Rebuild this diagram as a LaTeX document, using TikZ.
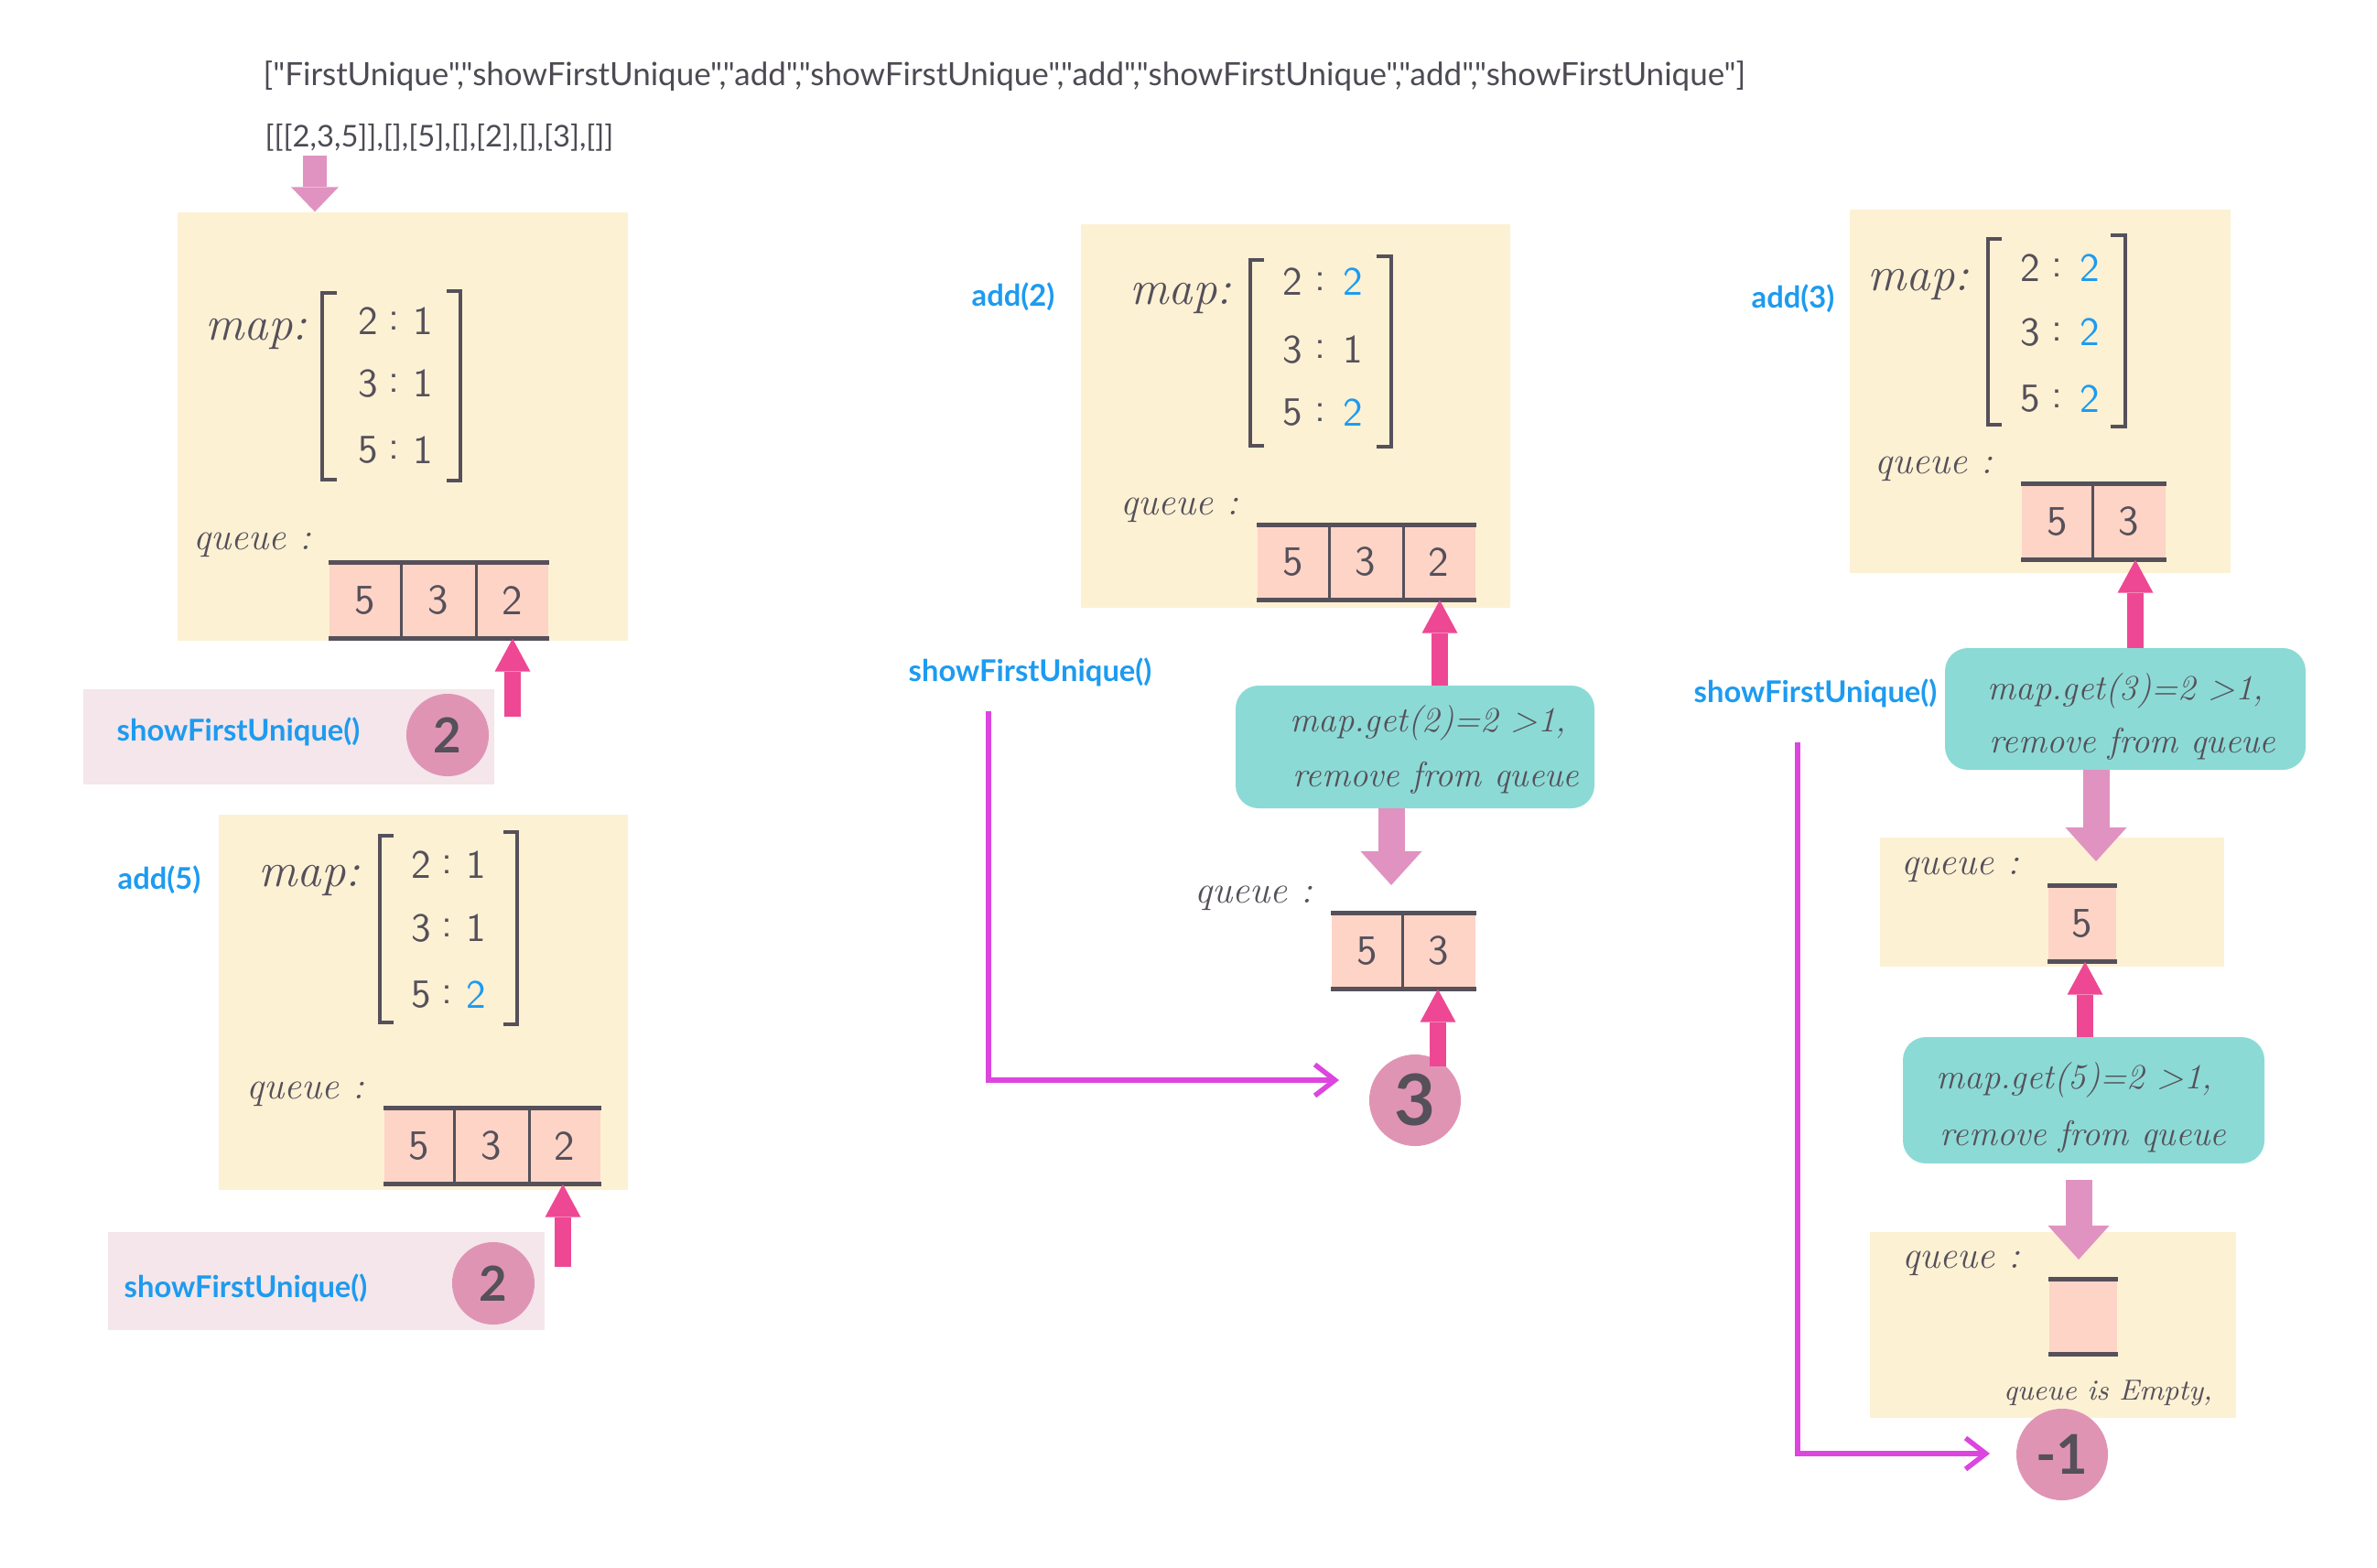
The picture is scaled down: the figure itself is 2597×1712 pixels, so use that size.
\documentclass[tikz,border=0pt]{standalone}
\usepackage{fontspec}
\usetikzlibrary{arrows.meta,fit,calc}
\newfontfamily\lab{Lato}
\definecolor{yel}{HTML}{FDF1D4}
\definecolor{salm}{HTML}{FDD4C6}
\definecolor{ink}{HTML}{55505A}
\definecolor{hot}{HTML}{EE4894}
\definecolor{lpink}{HTML}{E093C0}
\definecolor{circc}{HTML}{E094B4}
\definecolor{shw}{HTML}{F4E6EA}
\definecolor{tealc}{HTML}{8CDAD5}
\definecolor{blu}{HTML}{1D9BF0}
\definecolor{mag}{HTML}{DC46DE}
\definecolor{gtxt}{HTML}{4E4A53}
\tikzset{
  yb/.style={fill=yel, draw=none, inner sep=0},
  sb/.style={fill=shw, draw=none, inner sep=0},
  tb/.style={fill=tealc, draw=none, inner sep=0, rounded corners=0.25cm},
  cellbg/.style={fill=salm, draw=none, inner sep=0},
  cline/.style={draw=ink, line width=0.05cm},
  dline/.style={draw=ink, line width=0.03cm},
  brk/.style={draw=ink, line width=0.035cm},
  toptxt/.style={font=\lab\fontsize{9.3}{11}\selectfont, text=gtxt, inner sep=0, anchor=west},
  blab/.style={font=\lab\bfseries\fontsize{9.3}{11}\selectfont, text=blu, anchor=west, inner sep=0},
  hwmap/.style={font=\itshape\fontsize{15}{17}\selectfont, text=ink, inner sep=0},
  hwq/.style={font=\itshape\fontsize{12}{14}\selectfont, text=ink, inner sep=0},
  hwt/.style={font=\itshape\fontsize{11}{13}\selectfont, text=ink, inner sep=0, anchor=west},
  dg/.style={font=\sffamily\fontsize{12.5}{14}\selectfont, text=ink, inner sep=0},
  dgb/.style={font=\sffamily\fontsize{12.5}{14}\selectfont, text=blu, inner sep=0},
  cdg/.style={font=\sffamily\fontsize{13}{15}\selectfont, text=ink, inner sep=0},
  res/.style={circle, fill=circc, inner sep=0, text=ink, font=\lab\bfseries\fontsize{15}{17}\selectfont},
  uparrow/.style={draw=hot, line width=0.18cm, -{Triangle[width=0.39cm,length=0.36cm,line width=0pt]}},
  dnarrow/.style={draw=lpink, line width=0.29cm, -{Triangle[width=0.67cm,length=0.37cm,line width=0pt]}},
  topdn/.style={draw=lpink, line width=0.25cm, -{Triangle[width=0.52cm,length=0.27cm,line width=0pt]}},
  magline/.style={draw=mag, line width=0.055cm, -{Straight Barb[length=0.22cm,width=0.34cm]}}
}
\begin{document}
\begin{tikzpicture}[x=0.01cm,y=-0.01cm]
\useasboundingbox (0,0) rectangle (2597,1712);

% top texts
\node[toptxt, font=\lab\fontsize{9.95}{11}\selectfont] (ops) at (287,83) {["FirstUnique","showFirstUnique","add","showFirstUnique","add","showFirstUnique","add","showFirstUnique"]};
\node[toptxt] (args) at (289,150) {[[[2,3,5]],[],[5],[],[2],[],[3],[]]};

% ---------- box 1 ----------
\node[yb, fit={(194,232) (686,700)}] (box1) {};
\coordinate (a0) at (344,170);
\draw[topdn] (a0) -- (a0 |- box1.north);
\node[hwmap] (map1) at (280,365) {map:};
\draw[brk] (368,320) -- (352,320) -- (352,524) -- (368,524);
\draw[brk] (488,318) -- (503,318) -- (503,525) -- (488,525);
\node[dg] (m1a) at (402,351) {2}; \node[dg] at (430,351) {:}; \node[dg] at (462,351) {1};
\node[dg] (m1b) at (402,419) {3}; \node[dg] at (430,419) {:}; \node[dg] at (462,419) {1};
\node[dg] (m1c) at (402,492) {5}; \node[dg] at (430,492) {:}; \node[dg] at (462,492) {1};
\node[hwq] (qq1) at (276,595) {queue :};
\node[cellbg, fit={(360,615) (599,697)}] (q1) {};
\draw[cline] (q1.north west) -- (q1.north east);
\draw[cline] (q1.south west) -- (q1.south east);
\draw[dline] (438,615) -- (438,697);
\draw[dline] (520,615) -- (520,697);
\node[cdg] at (399,656) {5}; \node[cdg] at (479,656) {3}; \node[cdg] at (560,656) {2};
\node[sb, fit={(91,753) (540,857)}] (s1) {};
\node[blab] (s1t) at (127,799) {showFirstUnique()};
\node[res, minimum size=0.9cm] (r1) at (489,803) {2};
\coordinate (u1) at (560,783);
\draw[uparrow] (u1) -- (u1 |- q1.south);

% ---------- box 2 ----------
\node[yb, fit={(239,890) (686,1300)}] (box2) {};
\node[blab] (add5) at (128,961) {add(5)};
\node[hwmap] (map2) at (338,962) {map:};
\draw[brk] (430,913) -- (415,913) -- (415,1117) -- (430,1117);
\draw[brk] (550,909) -- (565,909) -- (565,1119) -- (550,1119);
\node[dg] at (460,945) {2}; \node[dg] at (488,945) {:}; \node[dg] at (520,945) {1};
\node[dg] at (460,1014) {3}; \node[dg] at (488,1014) {:}; \node[dg] at (520,1014) {1};
\node[dg] at (460,1087) {5}; \node[dg] at (488,1087) {:}; \node[dgb] at (520,1087) {2};
\node[hwq] (qq2) at (334,1195) {queue :};
\node[cellbg, fit={(420,1211) (656,1293)}] (q2) {};
\draw[cline] (q2.north west) -- (q2.north east);
\draw[cline] (q2.south west) -- (q2.south east);
\draw[dline] (496,1211) -- (496,1293);
\draw[dline] (578,1211) -- (578,1293);
\node[cdg] at (458,1252) {5}; \node[cdg] at (537,1252) {3}; \node[cdg] at (617,1252) {2};
\node[sb, fit={(118,1346) (595,1453)}] (s2) {};
\node[blab] (s2t) at (135,1407) {showFirstUnique()};
\node[res, minimum size=0.9cm] (r2) at (539,1402) {2};
\coordinate (u2) at (615,1384);
\draw[uparrow] (u2) -- (u2 |- q2.south);

% ---------- box 3 ----------
\node[yb, fit={(1181,245) (1650,664)}] (box3) {};
\node[blab] (add2) at (1061,324) {add(2)};
\node[hwmap] (map3) at (1290,326) {map:};
\draw[brk] (1381,284) -- (1366,284) -- (1366,487) -- (1381,487);
\draw[brk] (1504,280) -- (1520,280) -- (1520,488) -- (1504,488);
\node[dg] at (1412,308) {2}; \node[dg] at (1442,308) {:}; \node[dgb] at (1478,308) {2};
\node[dg] at (1412,382) {3}; \node[dg] at (1442,382) {:}; \node[dg] at (1478,382) {1};
\node[dg] at (1412,451) {5}; \node[dg] at (1442,451) {:}; \node[dgb] at (1478,451) {2};
\node[hwq] (qq3) at (1289,557) {queue :};
\node[cellbg, fit={(1374,574) (1612,655)}] (q3) {};
\draw[cline] (q3.north west) -- (q3.north east);
\draw[cline] (q3.south west) -- (q3.south east);
\draw[dline] (1452,574) -- (1452,655);
\draw[dline] (1533,574) -- (1533,655);
\node[cdg] at (1413,614) {5}; \node[cdg] at (1492,614) {3}; \node[cdg] at (1572,614) {2};
\node[blab] (s3t) at (992,734) {showFirstUnique()};
\node[tb, fit={(1350,749) (1742,883)}] (t1) {};
\node[hwt] at (1409,790) {map.get(2)=2 >1,};
\node[hwt] at (1412,850) {remove from queue};
\coordinate (u3) at (1573,749);
\draw[uparrow] (u3) -- (u3 |- q3.south);
\node[hwq] (qq4) at (1370,981) {queue :};
\node[cellbg, fit={(1455,998) (1612,1080)}] (q4) {};
\draw[cline] (q4.north west) -- (q4.north east);
\draw[cline] (q4.south west) -- (q4.south east);
\draw[dline] (1532,998) -- (1532,1080);
\node[cdg] at (1494,1039) {5}; \node[cdg] at (1572,1039) {3};
\coordinate (d1) at (1520,883);
\draw[dnarrow] (d1) -- (1520,967);
\node[res, minimum size=1.0cm, font=\lab\bfseries\fontsize{22}{24}\selectfont] (r3) at (1546,1202) {3};
\coordinate (u4) at (1571,1165);
\draw[uparrow] (u4) -- (u4 |- q4.south);
\coordinate (m1) at (1080,777);
\coordinate (m1e) at (1463,1180);
\draw[magline] (m1) |- (m1e);

% ---------- box 4 ----------
\node[yb, fit={(2021,229) (2437,626)}] (box4) {};
\node[blab] (add3) at (1913,326) {add(3)};
\node[hwmap] (map4) at (2096,311) {map:};
\draw[brk] (2187,261) -- (2172,261) -- (2172,464) -- (2187,464);
\draw[brk] (2306,257) -- (2322,257) -- (2322,466) -- (2306,466);
\node[dg] at (2218,293) {2}; \node[dg] at (2247,293) {:}; \node[dgb] at (2283,293) {2};
\node[dg] at (2218,363) {3}; \node[dg] at (2247,363) {:}; \node[dgb] at (2283,363) {2};
\node[dg] at (2218,436) {5}; \node[dg] at (2247,436) {:}; \node[dgb] at (2283,436) {2};
\node[hwq] (qq5) at (2113,512) {queue :};
\node[cellbg, fit={(2209,529) (2366,611)}] (q5) {};
\draw[cline] (q5.north west) -- (q5.north east);
\draw[cline] (q5.south west) -- (q5.south east);
\draw[dline] (2286,529) -- (2286,611);
\node[cdg] at (2248,570) {5}; \node[cdg] at (2326,570) {3};
\node[blab] (s4t) at (1850,757) {showFirstUnique()};
\node[tb, fit={(2125,708) (2519,841)}] (t2) {};
\node[hwt] at (2171,755) {map.get(3)=2 >1,};
\node[hwt] at (2173,813) {remove from queue};
\coordinate (u5) at (2333,708);
\draw[uparrow] (u5) -- (u5 |- q5.south);

% box 5
\node[yb, fit={(2054,915) (2430,1056)}] (box5) {};
\coordinate (d2) at (2290,841);
\draw[dnarrow] (d2) -- (2290,941);
\node[hwq] (qq6) at (2142,950) {queue :};
\node[cellbg, fit={(2238,968) (2312,1050)}] (q6) {};
\draw[cline] (q6.north west) -- (q6.north east);
\draw[cline] (q6.south west) -- (q6.south east);
\node[cdg] at (2275,1009) {5};

\node[tb, fit={(2079,1133) (2474,1271)}] (t3) {};
\node[hwt] at (2115,1180) {map.get(5)=2 >1,};
\node[hwt] at (2119,1242) {remove from queue};
\coordinate (u6) at (2278,1133);
\draw[uparrow] (u6) -- (u6 |- q6.south);

% box 6
\node[yb, fit={(2043,1346) (2443,1549)}] (box6) {};
\coordinate (d3) at (2271,1289);
\draw[dnarrow] (d3) -- (2271,1376);
\node[hwq] (qq7) at (2143,1380) {queue :};
\node[cellbg, fit={(2239,1398) (2313,1479)}] (q7) {};
\draw[cline] (q7.north west) -- (q7.north east);
\draw[cline] (q7.south west) -- (q7.south east);
\node[font=\itshape\fontsize{9}{11}\selectfont, text=ink, inner sep=0] (emp) at (2303,1522) {queue is Empty,};
\node[res, minimum size=1.0cm, font=\lab\bfseries\fontsize{17}{19}\selectfont] (r4) at (2253,1589) {-1};
\coordinate (m2) at (1964,811);
\coordinate (m2e) at (2174,1588);
\draw[magline] (m2) |- (m2e);
\end{tikzpicture}
\end{document}
